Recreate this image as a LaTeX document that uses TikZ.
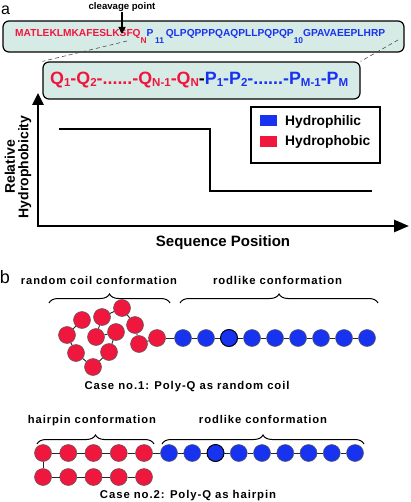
\documentclass[tikz,border=0pt]{standalone}
\usepackage{fontspec}
\setmainfont{Liberation Sans}
\newfontfamily\spc{Liberation Sans}[LetterSpace=8]
\usetikzlibrary{decorations.pathreplacing,arrows.meta}
\definecolor{qred}{HTML}{F0173F}
\definecolor{pblue}{HTML}{1733F0}
\definecolor{boxfill}{HTML}{D7EBE6}
\newcommand\fitw[2]{\resizebox{#1}{!}{#2}}
\newcommand\lsub[1]{\raisebox{-7pt}{\fontsize{8.5}{9}\selectfont #1}}
\newcommand\bsub[1]{\raisebox{-1.5pt}{\fontsize{11}{12}\selectfont #1}}
\begin{document}
\begin{tikzpicture}[x=1pt,y=-1pt,
  rb/.style={circle,fill=qred,draw=black!65,line width=0.5pt,minimum size=17pt,inner sep=0pt},
  bb/.style={rb,fill=pblue},
  bbk/.style={bb,draw=black,line width=0.9pt},
  bond/.style={line width=0.9pt,black!85},
  brc/.style={decorate,decoration={brace,amplitude=9pt},line width=1pt},
  lab/.style={font=\spc\bfseries\fontsize{10}{12}\selectfont,inner sep=0pt},
  txt/.style={font=\bfseries,inner sep=0pt},
  seqbox/.style={draw,fill=boxfill,rounded corners=6pt,line width=1.2pt,inner sep=0pt},
  dsh/.style={dashed,dash pattern=on 4pt off 3pt,line width=0.6pt,black!70},
  axis/.style={line width=2.5pt,line join=miter},
]
\useasboundingbox (0,0) rectangle (410,502);

% ---------- panel a ----------
\node[font=\fontsize{16}{16}\selectfont,inner sep=0pt,anchor=base west] (la) at (1,15) {a};

\node[seqbox,minimum width=401pt,minimum height=31pt] (box1) at (203.5,36.5) {};
\node[seqbox,minimum width=317pt,minimum height=37pt] (box2) at (201.5,80.5) {};
\coordinate (cl) at (127,41);
\coordinate (cr) at (398,40);
\draw[dsh] (cl) -- (box2.north west);
\draw[dsh] (cr) -- (box2.north east);

\node[txt,anchor=base west] (seq) at (15,37)
  {\fitw{370pt}{\fontsize{10.3}{12}\selectfont\textcolor{qred}{MATLEKLMKAFESLKSFQ\lsub{N}}\textcolor{pblue}{P\,\lsub{11}\,QLPQPPPQAQPLLPQPQP\lsub{10}GPAVAEEPLHRP}}};

\node[txt,font=\bfseries\fontsize{9.6}{11}\selectfont] (cp) at (122,7.5) {cleavage point};
\coordinate (ct) at (122,34);
\draw[line width=1.3pt,-{Triangle[length=7pt,width=7pt]}] (cp.south) -- (ct);

\node[txt,anchor=base west] (qp) at (50,84.5) {\fitw{298pt}{\fontsize{17}{18}\selectfont
  \textcolor{qred}{Q\bsub{1}-Q\bsub{2}-......-Q\bsub{N-1}-Q\bsub{N}}-\textcolor{pblue}{P\bsub{1}-P\bsub{2}-......-P\bsub{M-1}-P\bsub{M}}}};

% axes
\coordinate (O) at (38,226);
\coordinate (Y) at (38,93);
\coordinate (X) at (409,226);
\draw[axis,{Triangle[length=12pt,width=11pt]}-{Triangle[length=15pt,width=12pt]}] (Y) -- (O) -- (X);
\draw[line width=2pt] (59,129) -- (210,129) -- (210,191) -- (372,191);

\node[txt,anchor=base,font=\bfseries\fontsize{15}{16}\selectfont] (xl) at (223,246.5) {Sequence Position};
\node[txt,rotate=90,align=center,font=\bfseries\fontsize{14}{13.5}\selectfont] (yl) at (18,167) {Relative\\Hydrophobicity};

% legend
\node[draw,line width=2pt,minimum width=129pt,minimum height=56pt,inner sep=0pt] (leg) at (315.5,135) {};
\node[fill=pblue,minimum width=17pt,minimum height=11pt,inner sep=0pt] (lb) at (268.5,120.5) {};
\node[fill=qred,minimum width=17pt,minimum height=11pt,inner sep=0pt] (lr) at (268.5,141.5) {};
\node[txt,anchor=base west,font=\bfseries\fontsize{13.8}{15}\selectfont] (tb) at (285,125.5) {Hydrophilic};
\node[txt,anchor=base west,font=\bfseries\fontsize{13.8}{15}\selectfont] (tr) at (285,145.5) {Hydrophobic};

% ---------- panel b ----------
\node[font=\fontsize{18}{18}\selectfont,inner sep=0pt] (lbb) at (5,277) {b};

\node[lab,anchor=base] (t1) at (99,284.5) {\fitw{156pt}{random coil conformation}};
\node[lab,anchor=base] (t2) at (277.5,284.5) {\fitw{129pt}{rodlike conformation}};
\coordinate (b1l) at (49,303); \coordinate (b1r) at (170,303);
\coordinate (b2l) at (180,303); \coordinate (b2r) at (378,303);
\draw[brc] (b1l) -- (b1r);
\draw[brc] (b2l) -- (b2r);

% random coil
\foreach \n/\x/\y in {1/82/320,2/67/335,3/76/353,4/93/367,5/109/352,6/116/332,7/96/337,8/102/317,9/122/308,10/135/325,11/139/344,12/157/338}
  \node[rb] (c\n) at (\x,\y) {};
\foreach \i in {0,...,8}
  \node[bb] (d\i) at (183+23*\i,338) {};
\node[bbk] at (d2) {};
\foreach \a/\b in {c1/c2,c2/c3,c3/c4,c4/c5,c5/c6,c6/c7,c7/c8,c8/c9,c9/c10,c10/c11,c11/c12,c12/d0,d0/d1,d1/d2,d2/d3,d3/d4,d4/d5,d5/d6,d6/d7,d7/d8}
  \draw[bond] (\a) -- (\b);

\node[lab,anchor=base] (t3) at (187,389.5) {\fitw{205pt}{Case no.1: Poly-Q as random coil}};

% hairpin
\node[lab,anchor=base] (t4) at (92,423) {\fitw{128pt}{hairpin conformation}};
\node[lab,anchor=base] (t5) at (263,423) {\fitw{128pt}{rodlike conformation}};
\coordinate (b3l) at (37,444); \coordinate (b3r) at (154,444);
\coordinate (b4l) at (162,444); \coordinate (b4r) at (364,444);
\draw[brc] (b3l) -- (b3r);
\draw[brc] (b4l) -- (b4r);

\foreach \i in {0,...,4} {
  \node[rb] (h\i) at (43+25.25*\i,453) {};
  \node[rb] (g\i) at (43+25.25*\i,477) {};
}
\foreach \i in {0,...,8}
  \node[bb] (e\i) at (169+23.25*\i,453) {};
\node[bbk] at (e2) {};
\foreach \a/\b in {h0/h1,h1/h2,h2/h3,h3/h4,h4/e0,e0/e1,e1/e2,e2/e3,e3/e4,e4/e5,e5/e6,e6/e7,e7/e8,h0/g0,g0/g1,g1/g2,g2/g3,g3/g4}
  \draw[bond] (\a) -- (\b);

\node[lab,anchor=base] (t6) at (188,498.5) {\fitw{176pt}{Case no.2: Poly-Q as hairpin}};
\end{tikzpicture}
\end{document}
